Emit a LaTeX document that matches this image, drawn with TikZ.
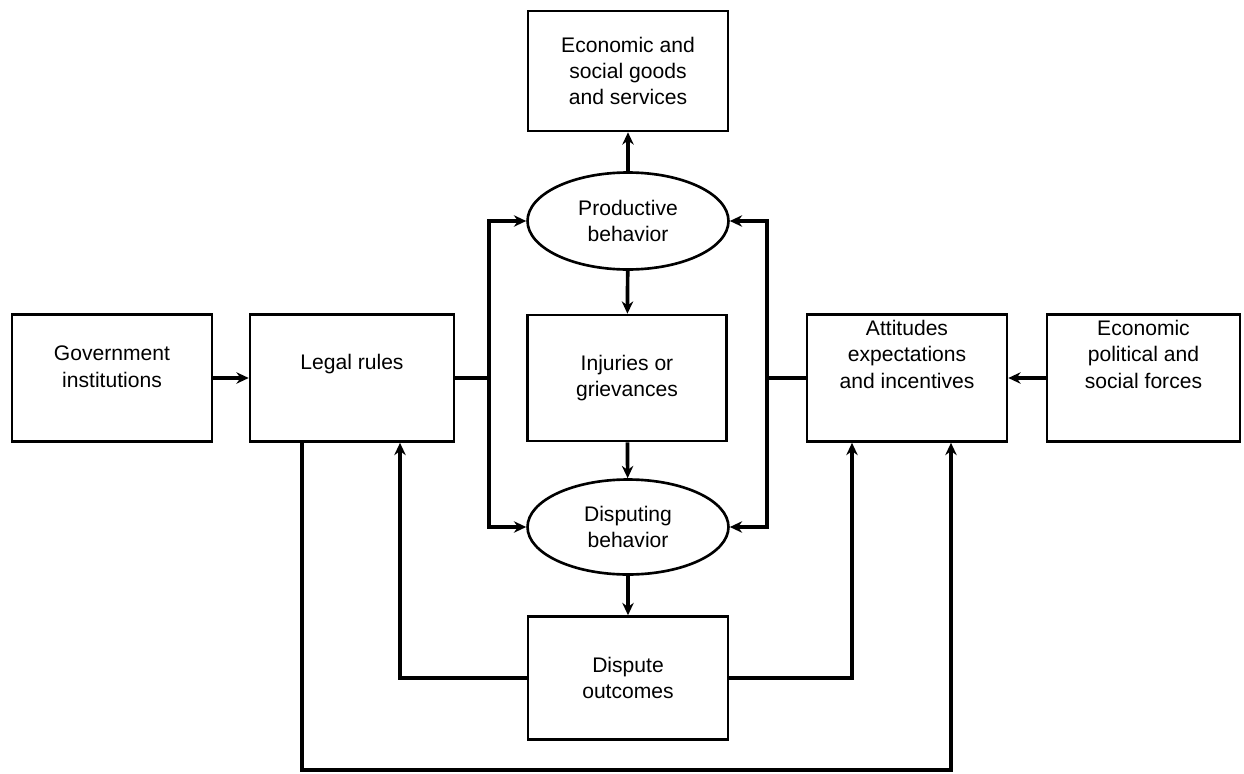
\documentclass[tikz,border=0pt]{standalone}
\usepackage{fontspec}
\setmainfont{Liberation Sans}
\usetikzlibrary{arrows.meta, positioning, calc, shapes.geometric}

\begin{document}
\begin{tikzpicture}[x=0.02cm, y=-0.02cm,
    every node/.style={font=\fontsize{12}{15}\selectfont, align=center},
    box/.style={draw, line width=1.5pt, minimum width=4cm, minimum height=2.54cm, inner sep=2pt},
    oval/.style={draw, ellipse, line width=1.5pt, minimum width=4.02cm, minimum height=1.94cm, inner sep=0pt},
    conn/.style={line width=2.1pt},
    arr/.style={conn, -{Stealth[length=7pt, width=6.5pt]}}]
    \useasboundingbox (0,0) rectangle (1244,774);
    % Middle column
    \node[box, minimum height=2.4cm] (goods) at (628,71) {Economic and\\social goods\\and services};
    \node[oval] (prod) at (628,221) {Productive\\behavior};
    \node[box, minimum width=3.98cm, minimum height=2.52cm] (injur) at (627,378) {Injuries or\\grievances};
    \node[oval, minimum height=1.9cm] (disp) at (628,527) {Disputing\\behavior};
    \node[box, minimum height=2.46cm] (outc) at (628,678) {Dispute\\outcomes};
    % Left and right boxes
    \node[box, text depth=13pt] (gov) at (112,378) {Government\\institutions};
    \node[box, minimum width=4.08cm, text depth=18pt] (legal) at (352,378) {Legal rules};
    \node[box, text depth=27pt] (attit) at (907,378) {Attitudes\\expectations\\and incentives};
    \node[box, minimum width=3.86cm, text depth=27pt] (forces) at (1143.5,378) {Economic\\political and\\social forces};
    % Straight arrows
    \draw[arr] (gov) -- (legal);
    \draw[arr] (forces) -- (attit);
    \draw[arr] (prod) -- (goods);
    \draw[arr] (prod) -- (injur);
    \draw[arr] (injur) -- (disp);
    \draw[arr] (disp) -- (outc);
    % Rules and attitudes feed both behaviours
    \coordinate (jl) at (489,378);
    \coordinate (jr) at (767,378);
    \draw[conn] (legal.east) -- (jl);
    \draw[arr] (jl) |- (prod.west);
    \draw[arr] (jl) |- (disp.west);
    \draw[conn] (attit.west) -- (jr);
    \draw[arr] (jr) |- (prod.east);
    \draw[arr] (jr) |- (disp.east);
    % Feedback from outcomes
    \coordinate (lu) at (400,0);
    \coordinate (ru) at (852,0);
    \draw[arr] (outc.west) -| (lu |- legal.south);
    \draw[arr] (outc.east) -| (ru |- attit.south);
    % Bottom loop
    \coordinate (lo) at (302,770);
    \coordinate (ro) at (951,770);
    \draw[arr] (legal.south -| lo) -- (lo) -- (ro) -- (ro |- attit.south);
\end{tikzpicture}
\end{document}
